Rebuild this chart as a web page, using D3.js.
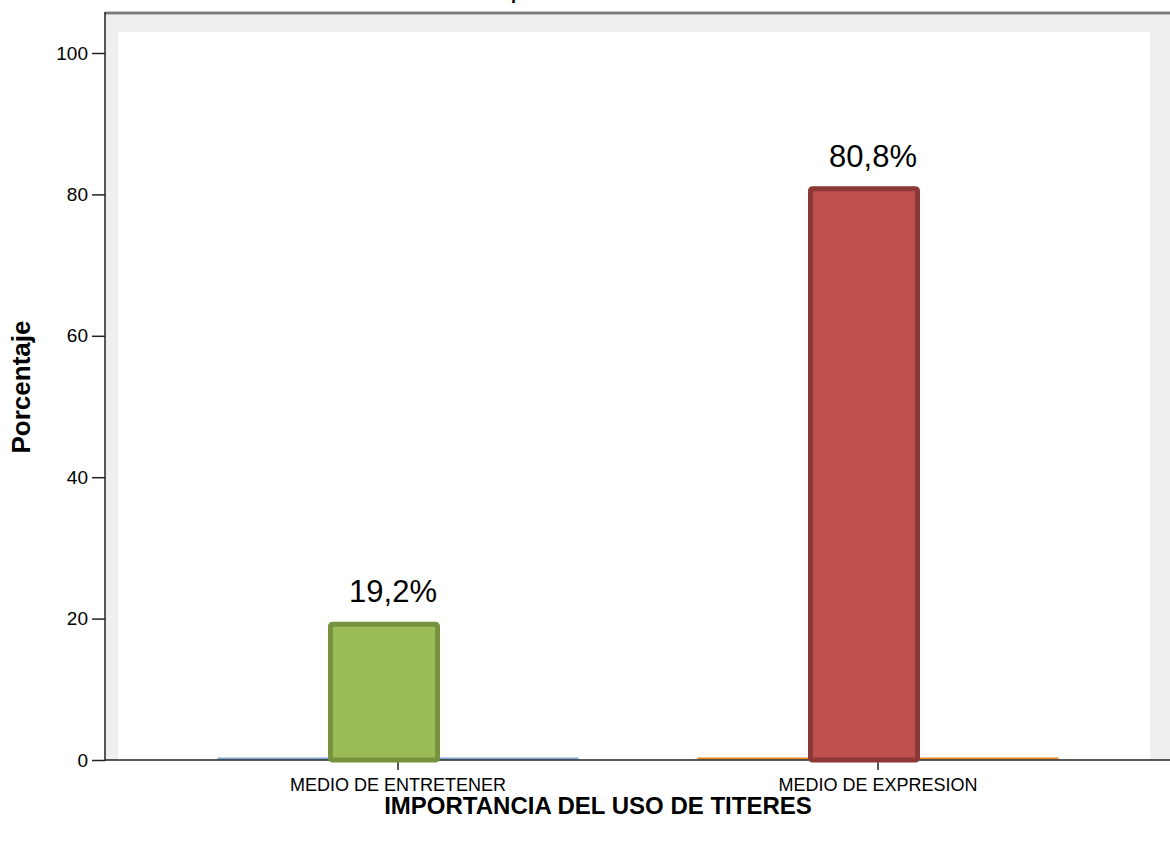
<!DOCTYPE html>
<html>
<head>
<meta charset="utf-8">
<script src="https://cdn.jsdelivr.net/npm/d3@7"></script>
<style>
  html, body { margin: 0; padding: 0; background: #ffffff; }
  svg { display: block; }
  text { font-family: Arial, "Liberation Sans", sans-serif; fill: #000; }
</style>
</head>
<body>
<svg id="chart" width="1170" height="845"></svg>
<script>
// ---- data ----
const categories = ["MEDIO DE ENTRETENER", "MEDIO DE EXPRESION"];
const values = [19.2, 80.8];
const valueLabels = ["19,2%", "80,8%"];
const yTicks = [0, 20, 40, 60, 80, 100];
const xTitle = "IMPORTANCIA DEL USO DE TITERES";
const yTitle = "Porcentaje";
const chartTitle = "Importancia del uso de títeres";
const fillColors = ["#9bbb59", "#c0504d"];
const strokeColors = ["#76923c", "#8c3836"];
const baseColors = ["#7ba7d6", "#e8871e"];

// ---- layout ----
const W = 1170, H = 845;
const axisX = 105, baseY = 760, topY = 53;
const svg = d3.select("#chart");

const y = d3.scaleLinear().domain([0, 100]).range([baseY, topY]);
const x = d3.scaleBand().domain(categories).range([158, 1118]).padding(0);

// frame / backgrounds
svg.append("rect").attr("x", axisX).attr("y", 14).attr("width", W - axisX).attr("height", baseY - 14).attr("fill", "#efefef");
svg.append("rect").attr("x", 118).attr("y", 32).attr("width", 1150 - 118).attr("height", baseY - 32).attr("fill", "#ffffff");
svg.append("line").attr("x1", axisX).attr("x2", W).attr("y1", 13).attr("y2", 13)
  .attr("stroke", "#8a8a8a").attr("stroke-width", 3);
svg.append("line").attr("x1", axisX).attr("x2", W).attr("y1", 13).attr("y2", 13)
  .attr("stroke", "#6a6a6a").attr("stroke-width", 1);

// partially visible title (cut by the top edge, as in the reference)
svg.append("text").attr("x", 490).attr("y", -1).attr("font-size", 18).attr("font-weight", "bold").text(chartTitle);

// y axis
const yAxis = d3.axisLeft(y).tickValues(yTicks).tickSize(13).tickPadding(4).tickFormat(d3.format("d"));
const gy = svg.append("g").attr("transform", `translate(${axisX},0)`).call(yAxis);
gy.select(".domain").remove();
gy.selectAll(".tick line").attr("stroke", "#222").attr("stroke-width", 1.5);
gy.selectAll(".tick text").attr("font-size", 19).attr("font-family", "Arial, 'Liberation Sans', sans-serif").attr("fill", "#000");
svg.append("line").attr("x1", axisX).attr("x2", axisX).attr("y1", 12).attr("y2", baseY + 1)
  .attr("stroke", "#222").attr("stroke-width", 1.5);

// baseline-coloured zero bars
const inner = 361;
svg.selectAll("line.zero").data(categories).join("line").attr("class", "zero")
  .attr("x1", d => x(d) + x.bandwidth() / 2 - inner / 2)
  .attr("x2", d => x(d) + x.bandwidth() / 2 + inner / 2)
  .attr("y1", baseY - 1.5).attr("y2", baseY - 1.5)
  .attr("stroke", (d, i) => baseColors[i]).attr("stroke-width", 2);

// x axis
const xAxis = d3.axisBottom(x).tickSize(10).tickPadding(8);
const gx = svg.append("g").attr("transform", `translate(0,${baseY})`).call(xAxis);
gx.select(".domain").remove();
gx.selectAll(".tick line").attr("stroke", "#222").attr("stroke-width", 1.5);
gx.selectAll(".tick text").attr("font-size", 18).attr("font-family", "Arial, 'Liberation Sans', sans-serif").attr("fill", "#000");
svg.append("line").attr("x1", axisX).attr("x2", W).attr("y1", baseY).attr("y2", baseY)
  .attr("stroke", "#222").attr("stroke-width", 1.5);

// bars
const barW = 107, barOff = -67.5;
svg.selectAll("rect.bar").data(values).join("rect").attr("class", "bar")
  .attr("x", (d, i) => x(categories[i]) + x.bandwidth() / 2 + barOff)
  .attr("y", d => y(d))
  .attr("width", barW)
  .attr("height", d => baseY - y(d))
  .attr("fill", (d, i) => fillColors[i])
  .attr("stroke", (d, i) => strokeColors[i])
  .attr("stroke-width", 5)
  .attr("rx", 2);

// value labels
svg.selectAll("text.vlab").data(values).join("text").attr("class", "vlab")
  .attr("x", (d, i) => x(categories[i]) + x.bandwidth() / 2 - 5)
  .attr("y", d => y(d) - 22)
  .attr("text-anchor", "middle")
  .attr("font-size", 31)
  .text((d, i) => valueLabels[i]);

// axis titles
svg.append("text").attr("x", 598).attr("y", 814).attr("text-anchor", "middle")
  .attr("font-size", 24).attr("font-weight", "bold").text(xTitle);
svg.append("text").attr("transform", "translate(30,387) rotate(-90)").attr("text-anchor", "middle")
  .attr("font-size", 26).attr("font-weight", "bold").text(yTitle);
</script>
</body>
</html>
